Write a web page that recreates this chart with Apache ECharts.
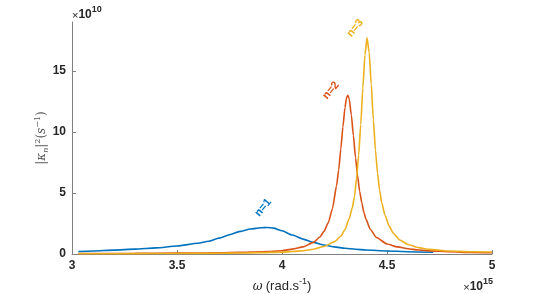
<!DOCTYPE html>
<html><head><meta charset="utf-8">
<script src="https://cdn.jsdelivr.net/npm/echarts@6/dist/echarts.min.js"></script>
<style>html,body{margin:0;padding:0;background:#fff}#c{width:545px;height:294px}</style>
</head><body><div id="c"></div>
<script>
// x in units of 1e15 rad/s, y in units of 1e10 s^-1
const xTicks = [3, 3.5, 4, 4.5, 5];
const yTicks = [0, 5, 10, 15];
const seriesNames = ['n=1', 'n=2', 'n=3'];
const colors = ['#0072BD', '#D95319', '#EDB120'];

const n1 = [[3.03,0.20],[3.1,0.25],[3.2,0.32],[3.3,0.40],[3.4,0.50],[3.5,0.65],[3.6,0.88],[3.65,1.05],[3.7,1.30],[3.75,1.58],[3.8,1.85],[3.85,2.05],[3.9,2.15],[3.93,2.17],[3.96,2.12],[4.0,1.90],[4.05,1.55],[4.1,1.22],[4.15,0.95],[4.2,0.74],[4.25,0.58],[4.3,0.47],[4.35,0.39],[4.4,0.33],[4.5,0.25],[4.6,0.19],[4.72,0.14]];

const n2 = [[3.03,0.04],[3.3,0.05],[3.5,0.07],[3.7,0.10],[3.8,0.13],[3.9,0.18],[3.95,0.21],[4.0,0.27],[4.05,0.40],[4.1,0.58],[4.15,0.95],[4.18,1.39],[4.2,1.85],[4.22,2.55],[4.24,3.7],[4.26,5.6],[4.27,6.9],[4.28,8.6],[4.29,10.4],[4.30,12.0],[4.307,12.8],[4.313,13.0],[4.32,12.7],[4.33,11.4],[4.34,9.7],[4.35,7.9],[4.36,6.4],[4.37,5.1],[4.38,4.2],[4.39,3.4],[4.40,2.84],[4.42,2.03],[4.45,1.35],[4.5,0.82],[4.55,0.58],[4.6,0.43],[4.65,0.33],[4.7,0.26],[4.8,0.18],[4.9,0.13],[5.0,0.10]];

const n3 = [[3.03,0.02],[3.3,0.03],[3.5,0.04],[3.7,0.06],[3.8,0.08],[3.9,0.11],[4.0,0.15],[4.05,0.20],[4.1,0.27],[4.15,0.39],[4.2,0.62],[4.25,1.0],[4.28,1.45],[4.3,2.0],[4.32,2.9],[4.335,3.8],[4.345,4.7],[4.355,6.2],[4.365,8.1],[4.375,10.6],[4.385,13.6],[4.395,16.3],[4.405,17.7],[4.415,16.5],[4.425,13.9],[4.435,11.0],[4.445,8.5],[4.455,6.6],[4.465,5.2],[4.475,4.2],[4.49,3.2],[4.51,2.3],[4.53,1.7],[4.56,1.15],[4.6,0.78],[4.65,0.52],[4.7,0.38],[4.8,0.24],[4.9,0.19],[5.0,0.16]];

const labelPos = [[3.91,3.8],[4.233,13.4],[4.348,18.5]];
const dataSets = [n1, n2, n3];

const chart = echarts.init(document.getElementById('c'), null, {renderer:'canvas'});
const axisCol = '#262626';
const font = '"Liberation Sans", Arial, Helvetica, sans-serif';
const serif = '"DejaVu Serif", serif';

chart.setOption({
  animation: false,
  grid: {left: 72, right: 53, top: 22, bottom: 40, containLabel: false, outerBoundsMode: 'none'},
  xAxis: {
    type: 'value', min: 3, max: 5, interval: 0.5,
    name: '{w|ω} {t|(rad.s}{p|-1}{t|)}', nameLocation: 'middle', nameGap: 23,
    nameTextStyle: {rich: {
      w: {fontFamily: serif, fontStyle: 'italic', fontSize: 12, color: axisCol, lineHeight: 16, verticalAlign: 'bottom'},
      t: {fontFamily: font, fontSize: 13, color: axisCol, lineHeight: 16, verticalAlign: 'bottom'},
      p: {fontFamily: font, fontSize: 9, color: axisCol, lineHeight: 16, verticalAlign: 'top'}
    }},
    axisLine: {show: true, lineStyle: {color: '#808080', width: 1}},
    axisTick: {show: true, inside: true, length: 4, lineStyle: {color: '#808080'}},
    axisLabel: {color: axisCol, fontFamily: font, fontSize: 12, fontWeight: 'bold', margin: 6,
      customValues: xTicks, formatter: v => String(v)},
    splitLine: {show: false}
  },
  yAxis: {
    type: 'value', min: 0, max: 19,
    name: '{b||}{k|κ}{s|n}{b||}{p|2}{b|(}{k|s}{p|−1}{b|)}', nameLocation: 'middle', nameGap: 22, nameRotate: 90,
    nameMoveOverlap: false,
    nameTextStyle: {rich: {
      b: {fontFamily: serif, fontSize: 12, color: '#555', lineHeight: 16, verticalAlign: 'middle'},
      k: {fontFamily: serif, fontStyle: 'italic', fontSize: 12, color: '#555', lineHeight: 16, verticalAlign: 'middle'},
      s: {fontFamily: serif, fontStyle: 'italic', fontSize: 8, color: '#555', lineHeight: 16, verticalAlign: 'bottom'},
      p: {fontFamily: serif, fontSize: 8, color: '#555', lineHeight: 16, verticalAlign: 'top'}
    }},
    axisLine: {show: true, lineStyle: {color: '#808080', width: 1}},
    axisTick: {show: true, inside: true, length: 4, customValues: yTicks, lineStyle: {color: '#808080'}},
    axisLabel: {color: axisCol, fontFamily: font, fontSize: 12, fontWeight: 'bold', margin: 6,
      customValues: yTicks},
    splitLine: {show: false}
  },
  graphic: [
    {type: 'text', left: 72, top: 5, style: {
      text: '{x|×}{t|10}{p|10}',
      rich: {
        x: {fontFamily: font, fontSize: 11, fill: axisCol, lineHeight: 16, verticalAlign: 'bottom'},
        t: {fontFamily: font, fontSize: 12, fontWeight: 'bold', fill: axisCol, lineHeight: 16, verticalAlign: 'bottom'},
        p: {fontFamily: font, fontSize: 9, fontWeight: 'bold', fill: axisCol, lineHeight: 16, verticalAlign: 'top'}
      }}},
    {type: 'text', right: 52, top: 277, style: {
      text: '{x|×}{t|10}{p|15}',
      rich: {
        x: {fontFamily: font, fontSize: 11, fill: axisCol, lineHeight: 16, verticalAlign: 'bottom'},
        t: {fontFamily: font, fontSize: 12, fontWeight: 'bold', fill: axisCol, lineHeight: 16, verticalAlign: 'bottom'},
        p: {fontFamily: font, fontSize: 9, fontWeight: 'bold', fill: axisCol, lineHeight: 16, verticalAlign: 'top'}
      }}}
  ],
  series: dataSets.map((d, i) => ({
    type: 'line', name: seriesNames[i], data: d, showSymbol: false, symbol: 'none',
    smooth: 0.2, smoothMonotone: 'x',
    lineStyle: {color: colors[i], width: 1.6},
    z: 2 + i,
    markPoint: {
      symbol: 'circle', symbolSize: 0, silent: true,
      data: [{coord: labelPos[i], value: seriesNames[i]}],
      label: {show: true, position: 'inside', formatter: seriesNames[i], rotate: 50,
        color: colors[i], fontFamily: font, fontSize: 11, fontWeight: 'bold'}
    }
  }))
});
</script></body></html>
